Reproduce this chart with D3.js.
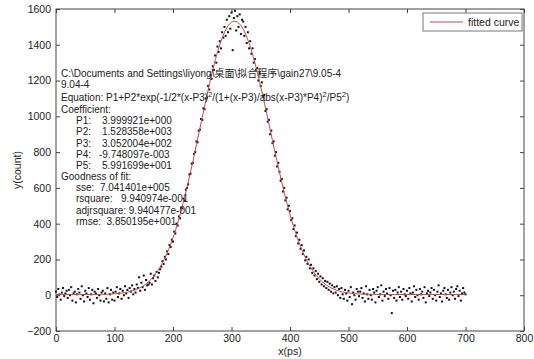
<!DOCTYPE html>
<html>
<head>
<meta charset="utf-8">
<script src="https://cdn.jsdelivr.net/npm/d3@7"></script>
<style>
  body { margin: 0; background: #fff; }
  svg { display: block; font-family: "Liberation Sans", Arial, "Noto Sans CJK SC", sans-serif; }
</style>
</head>
<body>
<figure id="fit" style="margin:0"></figure>
<script>
// measured points (x sampled every 2 ps from 0 to 700)
const sampleStep = 2;
const counts = [
  20, -10, 35, 5, -25, 15, 40, -5, 10, 25,
  -15, 30, 0, 45, -30, 10, 20, -40, 5, 35,
  15, -20, 50, 0, -35, 25, 10, -10, 40, -25,
  5, 30, -45, 20, 10, -15, 35, 0, -30, 15,
  25, -35, 10, -20, 40, -40, 5, 30, -25, 15,
  -30, 20, 45, -10, 10, 35, -20, 25, 0, 50,
  10, 30, -15, 40, 20, 55, 5, 35, 15, 60,
  40, 100, 25, 70, 45, 110, 30, 85, 55, 60,
  70, 120, 60, 95, 110, 80, 130, 100, 125, 145,
  160, 190, 175, 215, 200, 245, 230, 280, 270, 310,
  300, 355, 345, 400, 390, 440, 430, 490, 485, 540,
  530, 590, 600, 620, 675, 680, 735, 740, 790, 800,
  860, 855, 920, 925, 985, 980, 1045, 1040, 1100, 1105,
  1170, 1150, 1230, 1210, 1280, 1260, 1340, 1300, 1390, 1360,
  1420, 1380, 1470, 1440, 1500, 1450, 1540, 1470, 1560, 1490,
  1580, 1370, 1550, 1590, 1480, 1560, 1500, 1570, 1460, 1540,
  1530, 1450, 1500, 1410, 1470, 1380, 1420, 1350, 1380, 1300,
  1320, 1260, 1270, 1200, 1240, 1170, 1190, 1110, 1120, 1030,
  1040, 970, 980, 900, 920, 850, 860, 780, 800, 720,
  740, 690, 640, 650, 580, 600, 530, 545, 480, 500,
  470, 420, 430, 370, 390, 330, 350, 290, 310, 260,
  280, 230, 250, 195, 215, 175, 200, 150, 170, 125,
  150, 110, 135, 90, 120, 75, 105, 60, 95, 50,
  80, 40, 75, 30, 65, 20, 55, 10, 45, 15,
  50, 0, 35, -15, 40, 5, -20, 30, 10, -30,
  25, -10, 45, -50, 15, 0, -25, 35, 20, -5,
  20, 40, -15, 10, -35, 50, 5, -20, 30, 0,
  -25, 35, 15, -40, 25, 45, -10, 5, 55, -30,
  20, -5, 35, 10, -20, 40, 0, -100, 25, -15,
  30, -30, 15, 45, -10, 20, -25, 35, 5, -5,
  25, -20, 40, 10, -35, 15, 50, -10, 30, 0,
  -25, 35, 5, 20, -15, 45, -40, 10, 25, -5,
  15, 40, -20, 30, 0, -30, 20, 55, -10, 10,
  -35, 25, 40, 5, -15, 30, -25, 15, 45, 0,
  20, -20, 35, 50, -5, 25, -30, 10, 40, 15,
  5
];

// fitted curve
const curveX = [0, 10, 20, 30, 40, 50, 60, 70, 80, 90, 100, 110, 120, 130, 140, 150, 160, 170, 180, 190,
  200, 210, 220, 230, 240, 250, 260, 270, 280, 290, 300, 305, 310, 320, 330, 340, 350, 360, 370, 380,
  390, 400, 410, 420, 430, 440, 450, 460, 470, 480, 490, 500, 510, 520, 530, 540, 560, 580, 600, 620,
  640, 660, 680, 700];
const curveY = [4, 4, 4, 4, 4, 4, 4, 4, 5, 6, 8, 11, 16, 24, 36, 54, 81, 118, 169, 236,
  321, 426, 549, 689, 840, 995, 1147, 1286, 1401, 1483, 1526, 1532, 1527, 1487, 1409, 1299, 1166, 1018, 865, 716,
  576, 452, 345, 256, 186, 132, 91, 62, 41, 28, 18, 13, 9, 7, 6, 5, 4, 4, 4, 4,
  4, 4, 4, 4];

const xTicks = [0, 100, 200, 300, 400, 500, 600, 700, 800];
const yTicks = [-200, 0, 200, 400, 600, 800, 1000, 1200, 1400, 1600];

const infoLines = [
  "C:\\Documents and Settings\\liyong\\桌面\\拟合程序\\gain27\\9.05-4",
  "9.04-4"
];
const coefNames = ["P1:", "P2:", "P3:", "P4:", "P5:"];
const coefValues = ["3.999921e+000", "1.528358e+003", "3.052004e+002", "-9.748097e-003", "5.991699e+001"];
const gofLines = ["sse:  7.041401e+005", "rsquare:   9.940974e-001", "adjrsquare: 9.940477e-001", "rmse:  3.850195e+001"];

const width = 534, height = 359;
const plot = { left: 56, right: 524, top: 9, bottom: 331 };

const svg = d3.select("figure#fit")
  .append("svg")
  .attr("width", width)
  .attr("height", height);

svg.append("rect").attr("width", width).attr("height", height).attr("fill", "#fff");

const x = d3.scaleLinear().domain([0, 800]).range([plot.left, plot.right]);
const y = d3.scaleLinear().domain([-200, 1600]).range([plot.bottom, plot.top]);

// axes, MATLAB style: ticks inward on all four sides
const tickLen = 4;
svg.append("g")
  .attr("transform", "translate(0," + plot.bottom + ")")
  .call(d3.axisBottom(x).tickValues(xTicks).tickSize(-tickLen).tickPadding(4).tickFormat(d3.format("d")))
  .call(g => g.select(".domain").remove());
svg.append("g")
  .attr("transform", "translate(0," + plot.top + ")")
  .call(d3.axisTop(x).tickValues(xTicks).tickSize(-tickLen).tickFormat(""))
  .call(g => g.select(".domain").remove());
svg.append("g")
  .attr("transform", "translate(" + plot.left + ",0)")
  .call(d3.axisLeft(y).tickValues(yTicks).tickSize(-tickLen).tickPadding(5).tickFormat(d3.format("d")))
  .call(g => g.select(".domain").remove());
svg.append("g")
  .attr("transform", "translate(" + plot.right + ",0)")
  .call(d3.axisRight(y).tickValues(yTicks).tickSize(-tickLen).tickFormat(""))
  .call(g => g.select(".domain").remove());

svg.selectAll(".tick line").attr("stroke", "#444");
svg.selectAll(".tick text").attr("fill", "#222").style("font-size", "10.5px")
  .style("font-family", "'Liberation Sans', Arial, sans-serif");

svg.append("rect")
  .attr("x", plot.left).attr("y", plot.top)
  .attr("width", plot.right - plot.left).attr("height", plot.bottom - plot.top)
  .attr("fill", "none").attr("stroke", "#444");

// data points
svg.append("g").selectAll("rect")
  .data(counts)
  .enter()
  .append("rect")
  .attr("x", (d, i) => x(i * sampleStep) - 1)
  .attr("y", d => y(d) - 1)
  .attr("width", 2)
  .attr("height", 2)
  .attr("fill", "#111");

// fitted curve
const line = d3.line()
  .x(d => x(d[0]))
  .y(d => y(d[1]))
  .curve(d3.curveMonotoneX);
svg.append("path")
  .datum(curveX.map((cx, i) => [cx, curveY[i]]))
  .attr("d", line)
  .attr("fill", "none")
  .attr("stroke", "#c84848")
  .attr("stroke-width", 1);

// axis labels
svg.append("text")
  .attr("x", (plot.left + plot.right) / 2).attr("y", 355)
  .attr("text-anchor", "middle")
  .style("font-size", "10.5px").attr("fill", "#222")
  .text("x(ps)");
svg.append("text")
  .attr("transform", "translate(21," + (plot.top + plot.bottom) / 2 + ")rotate(-90)")
  .attr("text-anchor", "middle")
  .style("font-size", "10.5px").attr("fill", "#222")
  .text("y(count)");

// legend
svg.append("rect")
  .attr("x", 423).attr("y", 13).attr("width", 99).attr("height", 18)
  .attr("fill", "#fff").attr("stroke", "#777");
svg.append("line")
  .attr("x1", 430).attr("x2", 463).attr("y1", 22).attr("y2", 22)
  .attr("stroke", "#c84848");
svg.append("text")
  .attr("x", 468).attr("y", 26)
  .style("font-size", "10.5px").attr("fill", "#222")
  .text("fitted curve");

// annotation text block
const note = svg.append("g").style("font-size", "10px").attr("fill", "#222");
infoLines.forEach((t, i) => {
  note.append("text").attr("x", 61).attr("y", 77 + i * 11).text(t);
});
const eq = note.append("text").attr("x", 61).attr("y", 101);
const eqParts = [
  ["Equation: P1+P2*exp(-1/2*(x-P3)", false], ["2", true],
  ["/(1+(x-P3)/abs(x-P3)*P4)", false], ["2", true],
  ["/P5", false], ["2", true], [")", false]
];
let shifted = false;
eqParts.forEach(p => {
  const dy = p[1] ? -4 : (shifted ? 4 : 0);
  shifted = p[1];
  eq.append("tspan")
    .attr("dy", dy)
    .style("font-size", p[1] ? "7.5px" : null)
    .text(p[0]);
});
note.append("text").attr("x", 61).attr("y", 113).text("Coefficient:");
coefNames.forEach((n, i) => {
  note.append("text").attr("x", 76).attr("y", 124 + i * 11.3).text(n);
  note.append("text").attr("x", coefValues[i][0] === "-" ? 99 : 102).attr("y", 124 + i * 11.3).text(coefValues[i]);
});
note.append("text").attr("x", 61).attr("y", 180).text("Goodness of fit:");
gofLines.forEach((t, i) => {
  note.append("text").attr("x", 76).attr("y", 191 + i * 11.3)
    .style("white-space", "pre").text(t);
});
</script>
</body>
</html>
